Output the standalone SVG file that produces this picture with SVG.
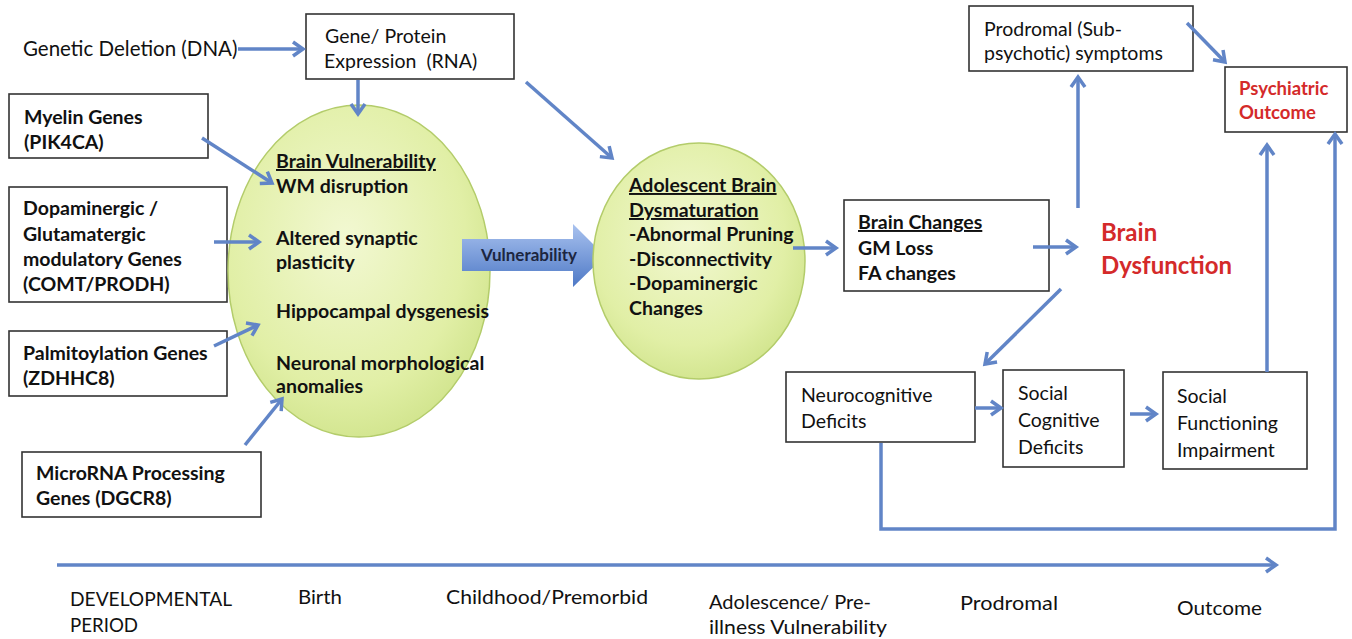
<svg xmlns="http://www.w3.org/2000/svg" width="1352" height="639" viewBox="0 0 1352 639">
<style>
text{font-family:Lato,"Open Sans","Liberation Sans",sans-serif;fill:#111;}
.r{font-size:19.5px;}
.b{font-size:19.5px;font-weight:bold;}
.u{text-decoration:underline;}
.red{fill:#d42a2a;}
.box{fill:#fff;stroke:#333;stroke-width:1.6;}
.ell{stroke:#b3cc6a;stroke-width:1.5;}
.c{fill:none;stroke:#6185c7;stroke-width:3.5;}
.tl{font-size:20px;}
</style>
<defs>
<marker id="ah" markerUnits="userSpaceOnUse" markerWidth="20" markerHeight="20" refX="13" refY="10" orient="auto">
<path d="M3,3 L13,10 L3,17" fill="none" stroke="#6185c7" stroke-width="3.5" stroke-linejoin="miter"/>
</marker>
<radialGradient id="gE" cx="0.45" cy="0.4" r="0.65">
<stop offset="0" stop-color="#f2f8d2"/>
<stop offset="0.7" stop-color="#e1efa6"/>
<stop offset="1" stop-color="#cfe38a"/>
</radialGradient>
<linearGradient id="gV" x1="0" y1="0" x2="0" y2="1">
<stop offset="0" stop-color="#a9c2ef"/>
<stop offset="1" stop-color="#4e79c6"/>
</linearGradient>
</defs>

<g id="genetic-deletion">
<text x="23" y="56" style="font-size:20.5px">Genetic Deletion (DNA)</text>
</g>

<g id="gene-protein">
<rect class="box" x="306" y="14" width="208" height="65"/>
<text class="r" x="325" y="43">Gene/ Protein</text>
<text class="r" x="324" y="68" xml:space="preserve">Expression  (RNA)</text>
</g>

<g id="myelin">
<rect class="box" x="9" y="94" width="199" height="64"/>
<text class="b" x="24" y="124">Myelin Genes</text>
<text class="b" x="24" y="149">(PIK4CA)</text>
</g>

<g id="dopaminergic">
<rect class="box" x="9" y="187" width="218" height="115"/>
<text class="b" x="23" y="215">Dopaminergic /</text>
<text class="b" x="23" y="241">Glutamatergic</text>
<text class="b" x="23" y="266">modulatory Genes</text>
<text class="b" x="23" y="291">(COMT/PRODH)</text>
</g>

<g id="palmitoylation">
<rect class="box" x="9" y="331" width="218" height="65"/>
<text class="b" x="23" y="360">Palmitoylation Genes</text>
<text class="b" x="23" y="385">(ZDHHC8)</text>
</g>

<g id="microrna">
<rect class="box" x="22" y="452" width="239" height="65"/>
<text class="b" x="36" y="480">MicroRNA Processing</text>
<text class="b" x="36" y="505">Genes (DGCR8)</text>
</g>

<g id="brain-vulnerability">
<ellipse class="ell" cx="359" cy="271" rx="131" ry="166" fill="url(#gE)"/>
<text class="b u" x="276" y="168">Brain Vulnerability</text>
<text class="b" x="276" y="193">WM disruption</text>
<text class="b" x="276" y="245">Altered synaptic</text>
<text class="b" x="276" y="269">plasticity</text>
<text class="b" x="276" y="318">Hippocampal dysgenesis</text>
<text class="b" x="276" y="370">Neuronal morphological</text>
<text class="b" x="276" y="393">anomalies</text>
</g>

<g id="vulnerability-arrow">
<path d="M462,239 L573,239 L573,224 L605,256 L573,287 L573,271 L462,271 Z" fill="url(#gV)"/>
<text x="481" y="261" style="font-size:17px;font-weight:bold;fill:#1c2640">Vulnerability</text>
</g>

<g id="adolescent">
<ellipse class="ell" cx="699" cy="261" rx="106" ry="118" fill="url(#gE)"/>
<text class="b u" x="629" y="192">Adolescent Brain</text>
<text class="b u" x="629" y="217">Dysmaturation</text>
<text class="b" x="629" y="241">-Abnormal Pruning</text>
<text class="b" x="629" y="266">-Disconnectivity</text>
<text class="b" x="629" y="290">-Dopaminergic</text>
<text class="b" x="629" y="315">Changes</text>
</g>

<g id="brain-changes">
<rect class="box" x="844" y="200" width="205" height="91"/>
<text class="b u" x="858" y="229">Brain Changes</text>
<text class="b" x="858" y="255">GM Loss</text>
<text class="b" x="858" y="280">FA changes</text>
</g>

<g id="brain-dysfunction">
<text x="1101" y="241" class="red" style="font-size:24px;font-weight:bold">Brain</text>
<text x="1101" y="274" class="red" style="font-size:24px;font-weight:bold">Dysfunction</text>
</g>

<g id="prodromal">
<rect class="box" x="969" y="6" width="224" height="65"/>
<text class="r" x="984" y="36">Prodromal (Sub-</text>
<text class="r" x="984" y="60">psychotic) symptoms</text>
</g>

<g id="psychiatric-outcome">
<rect class="box" x="1225" y="67" width="122" height="65"/>
<text x="1239" y="95" class="red" style="font-size:18.5px;font-weight:bold">Psychiatric</text>
<text x="1239" y="119" class="red" style="font-size:18.5px;font-weight:bold">Outcome</text>
</g>

<g id="neurocognitive">
<rect class="box" x="786" y="372" width="189" height="70"/>
<text class="r" x="801" y="402">Neurocognitive</text>
<text class="r" x="801" y="428">Deficits</text>
</g>

<g id="social-cognitive">
<rect class="box" x="1003" y="370" width="121" height="97"/>
<text class="r" x="1018" y="400">Social</text>
<text class="r" x="1018" y="427">Cognitive</text>
<text class="r" x="1018" y="454">Deficits</text>
</g>

<g id="social-functioning">
<rect class="box" x="1163" y="372" width="144" height="97"/>
<text class="r" x="1177" y="403">Social</text>
<text class="r" x="1177" y="430">Functioning</text>
<text class="r" x="1177" y="457">Impairment</text>
</g>

<g id="timeline-labels">
<text class="tl" x="70" y="606" textLength="162" lengthAdjust="spacingAndGlyphs">DEVELOPMENTAL</text>
<text class="tl" x="70" y="632" textLength="68" lengthAdjust="spacingAndGlyphs">PERIOD</text>
<text class="tl" x="298" y="604" textLength="44" lengthAdjust="spacingAndGlyphs">Birth</text>
<text class="tl" x="446" y="604" textLength="202" lengthAdjust="spacingAndGlyphs">Childhood/Premorbid</text>
<text class="tl" x="709" y="609" textLength="162" lengthAdjust="spacingAndGlyphs">Adolescence/ Pre-</text>
<text class="tl" x="709" y="634" textLength="178" lengthAdjust="spacingAndGlyphs">illness Vulnerability</text>
<text class="tl" x="960" y="610" textLength="98" lengthAdjust="spacingAndGlyphs">Prodromal</text>
<text class="tl" x="1177" y="615" textLength="85" lengthAdjust="spacingAndGlyphs">Outcome</text>
</g>

<g id="connectors">
<line class="c" x1="238" y1="49" x2="303" y2="49" marker-end="url(#ah)"/>
<line class="c" x1="358" y1="80" x2="358" y2="114" marker-end="url(#ah)"/>
<line class="c" x1="202" y1="138" x2="272" y2="183" marker-end="url(#ah)"/>
<line class="c" x1="214" y1="242" x2="259" y2="242" marker-end="url(#ah)"/>
<line class="c" x1="214" y1="346" x2="258" y2="325" marker-end="url(#ah)"/>
<line class="c" x1="245" y1="445" x2="282" y2="399" marker-end="url(#ah)"/>
<line class="c" x1="526" y1="82" x2="612" y2="158" marker-end="url(#ah)"/>
<line class="c" x1="793" y1="248" x2="836" y2="248" marker-end="url(#ah)"/>
<line class="c" x1="1033" y1="247" x2="1076" y2="247" marker-end="url(#ah)"/>
<line class="c" x1="1078" y1="208" x2="1078" y2="77" marker-end="url(#ah)"/>
<line class="c" x1="1187" y1="23" x2="1225" y2="62" marker-end="url(#ah)"/>
<line class="c" x1="1061" y1="289" x2="985" y2="364" marker-end="url(#ah)"/>
<line class="c" x1="975" y1="408" x2="1001" y2="408" marker-end="url(#ah)"/>
<line class="c" x1="1130" y1="414" x2="1156" y2="414" marker-end="url(#ah)"/>
<line class="c" x1="1267" y1="372" x2="1267" y2="145" marker-end="url(#ah)"/>
<polyline class="c" points="881,443 881,529 1335,529 1335,134" marker-end="url(#ah)"/>
<line class="c" x1="57" y1="565" x2="1276" y2="565" marker-end="url(#ah)"/>
</g>
</svg>
